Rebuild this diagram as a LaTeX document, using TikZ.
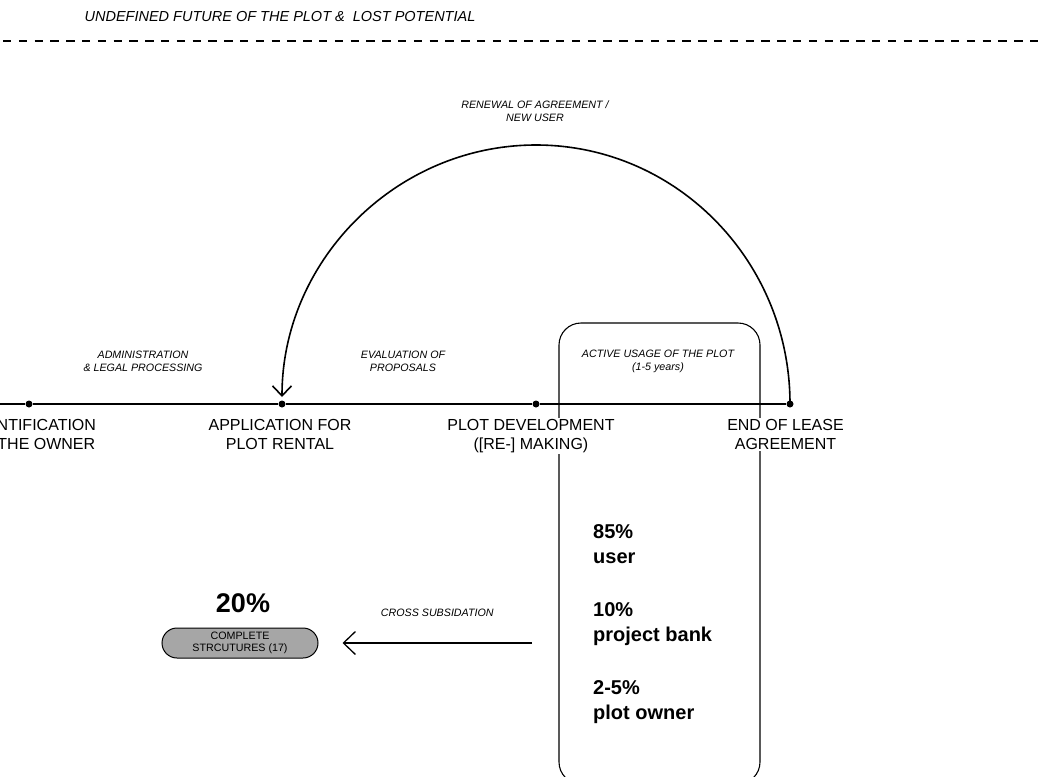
\documentclass[tikz,border=0pt]{standalone}
\usepackage{fontspec}
\setmainfont{Liberation Sans}
\usetikzlibrary{arrows.meta,positioning}
\definecolor{pillgray}{HTML}{A6A6A6}
\begin{document}
\begin{tikzpicture}[x=1pt,y=-1pt]
	\tikzstyle{dot} = [circle, fill=black, inner sep=0pt, minimum size=7pt]
	\tikzstyle{stage} = [fill=white, inner sep=1pt, align=center, font=\fontsize{16}{19.2}\selectfont]
	\tikzstyle{note} = [align=center, inner sep=0pt, font=\fontsize{10.7}{13}\selectfont\itshape]
	\tikzstyle{share} = [align=left, inner sep=0pt, anchor=north west, font=\fontsize{20}{25}\selectfont\bfseries]
	\tikzstyle{pill} = [draw, fill=pillgray, rounded corners=15pt, line width=1pt, minimum width=156pt, minimum height=30pt, align=center, inner sep=0pt, font=\fontsize{10.7}{12}\selectfont]
	\tikzstyle{usage} = [draw, rounded corners=22pt, line width=1.1pt, minimum width=201pt, minimum height=461pt]
	\tikzstyle{timeline} = [draw, line width=1.6pt]
	\tikzstyle{line} = [draw, line width=1.6pt, -{Straight Barb[length=10pt,width=19pt]}]

	\clip (0,0) rectangle (1045,777); % page frame

	\node [note, font=\fontsize{14.5}{17}\selectfont\itshape] (future) at (280,17) {UNDEFINED FUTURE OF THE PLOT \&~ LOST POTENTIAL};
	\coordinate (dashl) at (3,41);
	\coordinate (dashr) at (1045,41);
	\draw [line width=2pt, dash pattern=on 8.3pt off 7.5pt] (dashl) -- (dashr);

	\node [usage] (usage) at (659.5,553.5) {};
	\node [note] (active) at (658,361.5) {ACTIVE USAGE OF THE PLOT\\(1-5 years)};

	\coordinate (tstart) at (0,404);
	\node [dot] (owner) at (29,404) {};
	\node [dot] (apply) at (282,404) {};
	\node [dot] (dev) at (536,404) {};
	\node [dot] (lease) at (790,404) {};
	\path [timeline] (tstart) -- (owner) -- (apply) -- (dev) -- (lease);

	\node [stage, below=10.5pt of owner, xshift=4pt] (ownerlab) {IDENTIFICATION\\OF THE OWNER};
	\node [stage, below=10.5pt of apply, xshift=-2pt] (applylab) {APPLICATION FOR\\PLOT RENTAL};
	\node [stage, below=10.5pt of dev, xshift=-5pt] (devlab) {PLOT DEVELOPMENT\\([RE-] MAKING)};
	\node [stage, below=10.5pt of lease, xshift=-4.5pt] (leaselab) {END OF LEASE\\AGREEMENT};

	\node [note] (admin) at (143,361.5) {ADMINISTRATION\\\& LEGAL PROCESSING};
	\node [note] (eval) at (403,361.5) {EVALUATION OF\\PROPOSALS};

	\path [line, shorten >=7pt] (lease.center) arc [start angle=0, end angle=180, x radius=254pt, y radius=259pt];
	\node [note] (renewal) at (535,111.5) {RENEWAL OF AGREEMENT /\\NEW USER};

	\node [share] (shares) at (593,524.6) {85\%\\user\\[28pt]10\%\\project bank\\[28pt]2-5\%\\plot owner};

	\node [pill] (complete) at (240,643) {COMPLETE\\STRCUTURES (17)};
	\node [inner sep=0pt, above=15pt of complete, xshift=3pt, font=\fontsize{27}{30}\selectfont\bfseries] (twenty) {20\%};
	\coordinate (subfrom) at (532,643);
	\path [line, line width=1.3pt, -{Straight Barb[length=12pt,width=23pt]}] (subfrom) -- ([xshift=24pt]complete.east) node [note, midway, above=26pt] {CROSS SUBSIDATION};
\end{tikzpicture}
\end{document}
